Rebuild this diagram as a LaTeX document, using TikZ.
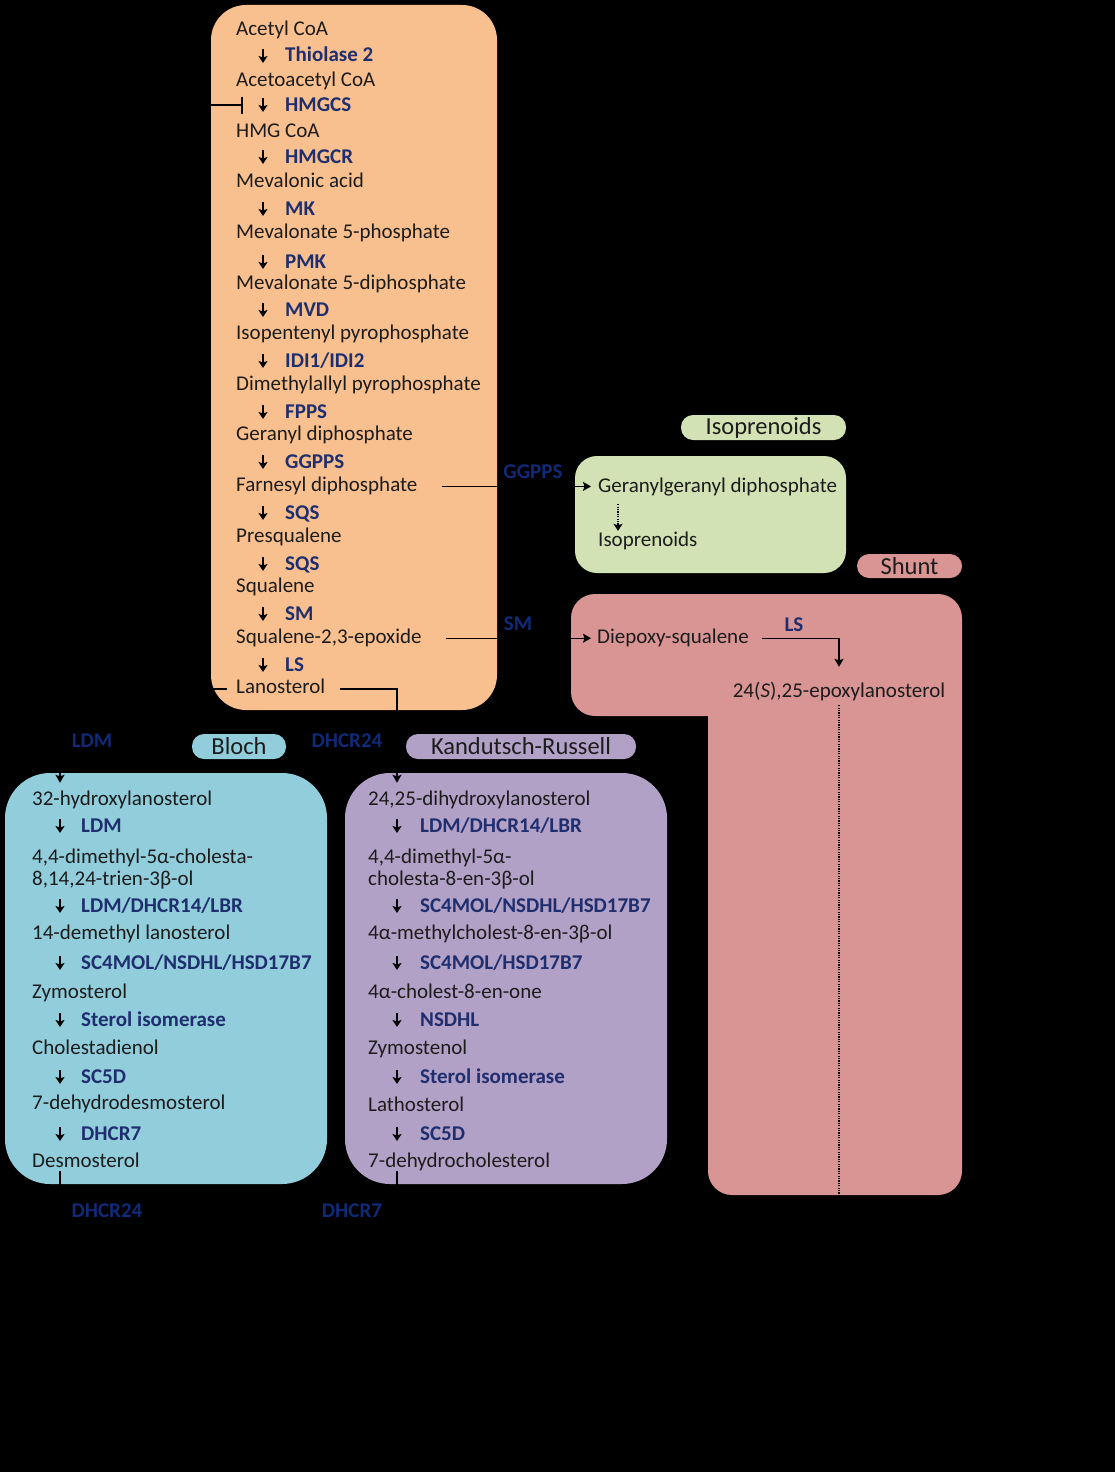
\documentclass[tikz,border=0pt]{standalone}
\usepackage{fontspec}
\setmainfont{Carlito}
\usetikzlibrary{arrows.meta,calc}
\definecolor{orangebox}{HTML}{F9C08F}
\definecolor{greenbox}{HTML}{D3E2B4}
\definecolor{redbox}{HTML}{D99594}
\definecolor{bluebox}{HTML}{92CDDC}
\definecolor{purplebox}{HTML}{B2A1C7}
\definecolor{textc}{HTML}{1C1C1C}
\definecolor{enzc}{HTML}{1F2E6E}
\definecolor{outc}{HTML}{102A78}
\begin{document}
\begin{tikzpicture}[x=1pt,y=-1pt,
  met/.style={anchor=base west, inner sep=0pt, text height=14pt, text depth=4pt, font=\fontsize{21}{22}\selectfont, text=textc},
  enz/.style={anchor=base west, inner sep=0pt, text height=14pt, text depth=4pt, font=\fontsize{21}{22}\selectfont\bfseries, text=enzc},
  outl/.style={inner sep=0pt, font=\fontsize{21}{22}\selectfont\bfseries, text=outc},
  pill/.style={rounded corners=12pt, inner sep=0pt, font=\fontsize{24.5}{26}\selectfont, text=textc},
  sarr/.style={line width=1.8pt, black, -{Stealth[length=7pt,width=9pt,inset=1.5pt]}},
  conn/.style={line width=1.4pt, black},
  carr/.style={line width=1.4pt, black, -{Stealth[length=8pt,width=9pt,inset=1.5pt]}},
  dotl/.style={line width=1.5pt, black, dash pattern=on 1.2pt off 1.2pt},
]
\fill[black] (0,0) rectangle (1115,1472);
\useasboundingbox (0,0) rectangle (1115,1472);

% ---------- boxes ----------
\fill[orangebox, rounded corners=35pt] (211,5) rectangle (497,710);
\fill[greenbox, rounded corners=22pt] (575,456) rectangle (846,573);
\fill[redbox, rounded corners=24pt] (571,594) rectangle (962,716) (708,594) rectangle (962,1195);
\fill[bluebox, rounded corners=45pt] (5,773) rectangle (327,1184);
\fill[purplebox, rounded corners=45pt] (345,773) rectangle (667,1184);

% ---------- title pills ----------
\node[pill, fill=greenbox, minimum width=165pt, minimum height=25pt] (tiso) at (763.5,427.5) {Isoprenoids};
\node[pill, fill=redbox, minimum width=105pt, minimum height=24pt] (tshunt) at (909.5,566) {Shunt};
\node[pill, fill=bluebox, minimum width=94pt, minimum height=25pt] (tbloch) at (239,746.5) {Bloch};
\node[pill, fill=purplebox, minimum width=230pt, minimum height=25pt] (tkr) at (521,746.5) {Kandutsch-Russell};

% ---------- mevalonate pathway ----------
\node[met] (o0) at (236,36) {Acetyl CoA};
\node[met] (o1) at (236,86.6) {Acetoacetyl CoA};
\node[met] (o2) at (236,137.2) {HMG CoA};
\node[met] (o3) at (236,187.8) {Mevalonic acid};
\node[met] (o4) at (236,238.4) {Mevalonate 5-phosphate};
\node[met] (o5) at (236,289) {Mevalonate 5-diphosphate};
\node[met] (o6) at (236,339.6) {Isopentenyl pyrophosphate};
\node[met] (o7) at (236,390.2) {Dimethylallyl pyrophosphate};
\node[met] (o8) at (236,440.8) {Geranyl diphosphate};
\node[met] (o9) at (236,491.4) {Farnesyl diphosphate};
\node[met] (o10) at (236,542) {Presqualene};
\node[met] (o11) at (236,592.6) {Squalene};
\node[met] (o12) at (236,643.2) {Squalene-2,3-epoxide};
\node[met] (o13) at (236,693.8) {Lanosterol};

\node[enz] (e1) at (285,62) {Thiolase 2};
\node[enz] (e2) at (285,111) {HMGCS};
\node[enz] (e3) at (285,163) {HMGCR};
\node[enz] (e4) at (285,215) {MK};
\node[enz] (e5) at (285,268) {PMK};
\node[enz] (e6) at (285,316) {MVD};
\node[enz] (e7) at (285,367) {IDI1/IDI2};
\node[enz] (e8) at (285,418) {FPPS};
\node[enz] (e9) at (285,468) {GGPPS};
\node[enz] (e10) at (285,519) {SQS};
\node[enz] (e11) at (285,570) {SQS};
\node[enz] (e12) at (285,620) {SM};
\node[enz] (e13) at (285,671) {LS};
\foreach \n in {e1,e2,e3,e4,e5,e6,e7,e8,e9,e10,e11,e12,e13}
  \draw[sarr] ([shift={(-22,-13)}]\n.base west) -- ++(0,14);

% inhibition on HMGCS
\coordinate (inh) at (150,105);
\draw[conn, line width=1.6pt, -{Bar[width=17pt,line width=2pt]}] (inh) -- ([shift={(-42,-6)}]e2.base west);

% ---------- isoprenoids ----------
\node[met] (g1) at (598,492) {Geranylgeranyl diphosphate};
\node[met] (g2) at (598,546) {Isoprenoids};
\draw[carr] ([xshift=24]o9.east) -- ($(o9.east -| g1.west)+(-7,0)$);
\node[outl] (lggpps) at (533,472) {GGPPS};
\draw[dotl, -{Stealth[length=7pt,width=9pt,inset=1.5pt]}] ([shift={(20,8)}]g1.south west) -- ([shift={(20,-1)}]g2.north west);

% ---------- shunt ----------
\node[met] (r1) at (597,643.2) {Diepoxy-squalene};
\node[met, anchor=base] (r2) at (839,697) {24(\textit{S}),25-epoxylanosterol};
\draw[carr] ([xshift=24]o12.east) -- ($(o12.east -| r1.west)+(-6,0)$);
\node[outl] (lsm) at (518,624) {SM};
\draw[carr] ([xshift=13]r1.east) -| ([yshift=16]r2.north);
\node[enz, anchor=base] (lls) at (794,631) {LS};
\coordinate (dotend) at (839,1260);
\draw[dotl] ([yshift=-4]r2.south) -- (dotend);

% ---------- branches from lanosterol ----------
\node[met] (b1) at (32,805) {32-hydroxylanosterol};
\node[met] (k1) at (368,805) {24,25-dihydroxylanosterol};
\draw[carr, shorten >=8pt] ([xshift=-9]o13.west) -| ([xshift=28]b1.north west);
\draw[carr, shorten >=8pt] ([xshift=14]o13.east) -| ([xshift=29]k1.north west);
\node[outl] (lldm) at (92,741) {LDM};
\node[outl] (ldh24a) at (347,741) {DHCR24};

% ---------- Bloch ----------
\node[met] (b2) at (32,863) {4,4-dimethyl-5α-cholesta-};
\node[met] (b2b) at (32,885) {8,14,24-trien-3β-ol};
\node[met] (b3) at (32,939) {14-demethyl lanosterol};
\node[met] (b4) at (32,998) {Zymosterol};
\node[met] (b5) at (32,1054) {Cholestadienol};
\node[met] (b6) at (32,1109) {7-dehydrodesmosterol};
\node[met] (b7) at (32,1167) {Desmosterol};
\node[enz] (be1) at (81,832) {LDM};
\node[enz] (be2) at (81,912) {LDM/DHCR14/LBR};
\node[enz] (be3) at (81,969) {SC4MOL/NSDHL/HSD17B7};
\node[enz] (be4) at (81,1026) {Sterol isomerase};
\node[enz] (be5) at (81,1083) {SC5D};
\node[enz] (be6) at (81,1140) {DHCR7};
\foreach \n in {be1,be2,be3,be4,be5,be6}
  \draw[sarr] ([shift={(-21,-13)}]\n.base west) -- ++(0,14);
\coordinate (bend) at (60,1260);
\draw[conn] ([xshift=28]b7.south west) -- (bend);
\node[outl] (ldh24b) at (107,1211) {DHCR24};

% ---------- Kandutsch-Russell ----------
\node[met] (k2) at (368,863) {4,4-dimethyl-5α-};
\node[met] (k2b) at (368,885) {cholesta-8-en-3β-ol};
\node[met] (k3) at (368,939) {4α-methylcholest-8-en-3β-ol};
\node[met] (k4) at (368,998) {4α-cholest-8-en-one};
\node[met] (k5) at (368,1054) {Zymostenol};
\node[met] (k6) at (368,1111) {Lathosterol};
\node[met] (k7) at (368,1167) {7-dehydrocholesterol};
\node[enz] (ke1) at (420,832) {LDM/DHCR14/LBR};
\node[enz] (ke2) at (420,912) {SC4MOL/NSDHL/HSD17B7};
\node[enz] (ke3) at (420,969) {SC4MOL/HSD17B7};
\node[enz] (ke4) at (420,1026) {NSDHL};
\node[enz] (ke5) at (420,1083) {Sterol isomerase};
\node[enz] (ke6) at (420,1140) {SC5D};
\foreach \n in {ke1,ke2,ke3,ke4,ke5,ke6}
  \draw[sarr] ([shift={(-23,-13)}]\n.base west) -- ++(0,14);
\coordinate (kend) at (397,1260);
\draw[conn] ([xshift=29]k7.south west) -- (kend);
\node[outl] (ldh7) at (352,1211) {DHCR7};
\end{tikzpicture}
\end{document}
